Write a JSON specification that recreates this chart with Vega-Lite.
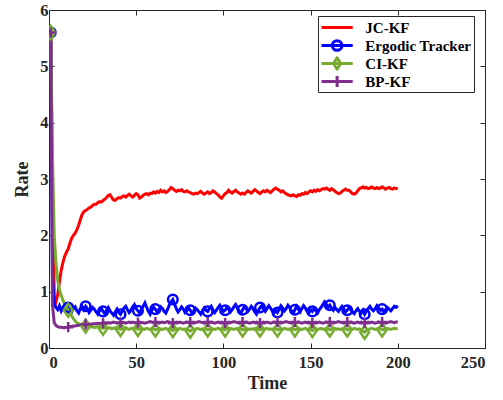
{
"$schema":"https://vega.github.io/schema/vega-lite/v6.json",
"width":436,"height":338,
"autosize":"none",
"padding":{"left":49,"top":10,"right":18,"bottom":52},
"background":"white",
"config":{
 "font":"Liberation Serif",
 "view":{"stroke":"#262626","strokeWidth":1},
 "axis":{"labelFont":"Liberation Serif","labelFontWeight":"bold","labelFontSize":16.5,"labelColor":"#262626","titleFont":"Liberation Serif","titleFontWeight":"bold","titleFontSize":18,"titleColor":"#262626","domainColor":"#262626","tickColor":"#262626","tickSize":-5,"grid":false,"labelPadding":6}
},
"data":{"values":[
{"t":1,"JC-KF":5.6,"Ergodic Tracker":5.6,"CI-KF":5.6,"BP-KF":5.6},
{"t":2,"JC-KF":2.8,"Ergodic Tracker":1.3,"CI-KF":3.4,"BP-KF":0.75},
{"t":3,"JC-KF":0.9,"Ergodic Tracker":0.78,"CI-KF":2.0,"BP-KF":0.45},
{"t":4,"JC-KF":0.82,"Ergodic Tracker":0.72,"CI-KF":1.5,"BP-KF":0.4},
{"t":5,"JC-KF":0.95,"Ergodic Tracker":0.68,"CI-KF":1.2,"BP-KF":0.38},
{"t":6,"JC-KF":1.18,"Ergodic Tracker":0.75,"CI-KF":1.03,"BP-KF":0.37},
{"t":7,"JC-KF":1.38,"Ergodic Tracker":0.66,"CI-KF":0.93,"BP-KF":0.37},
{"t":8,"JC-KF":1.52,"Ergodic Tracker":0.72,"CI-KF":0.85,"BP-KF":0.36},
{"t":9,"JC-KF":1.63,"Ergodic Tracker":0.7,"CI-KF":0.78,"BP-KF":0.36},
{"t":10,"JC-KF":1.7,"Ergodic Tracker":0.65,"CI-KF":0.72,"BP-KF":0.37},
{"t":11,"JC-KF":1.76,"Ergodic Tracker":0.72,"CI-KF":0.67,"BP-KF":0.37},
{"t":12,"JC-KF":1.86,"Ergodic Tracker":0.69,"CI-KF":0.62,"BP-KF":0.38},
{"t":13,"JC-KF":1.95,"Ergodic Tracker":0.64,"CI-KF":0.57,"BP-KF":0.38},
{"t":14,"JC-KF":2.0,"Ergodic Tracker":0.7,"CI-KF":0.52,"BP-KF":0.39},
{"t":15,"JC-KF":2.04,"Ergodic Tracker":0.73,"CI-KF":0.48,"BP-KF":0.39},
{"t":16,"JC-KF":2.1,"Ergodic Tracker":0.66,"CI-KF":0.45,"BP-KF":0.4},
{"t":17,"JC-KF":2.18,"Ergodic Tracker":0.62,"CI-KF":0.43,"BP-KF":0.4},
{"t":18,"JC-KF":2.28,"Ergodic Tracker":0.7,"CI-KF":0.42,"BP-KF":0.41},
{"t":19,"JC-KF":2.37,"Ergodic Tracker":0.74,"CI-KF":0.41,"BP-KF":0.41},
{"t":20,"JC-KF":2.42,"Ergodic Tracker":0.68,"CI-KF":0.4,"BP-KF":0.42},
{"t":21,"JC-KF":2.44,"Ergodic Tracker":0.74,"CI-KF":0.39,"BP-KF":0.42},
{"t":22,"JC-KF":2.46,"Ergodic Tracker":0.7,"CI-KF":0.38,"BP-KF":0.42},
{"t":23,"JC-KF":2.49,"Ergodic Tracker":0.63,"CI-KF":0.39,"BP-KF":0.43},
{"t":24,"JC-KF":2.5,"Ergodic Tracker":0.67,"CI-KF":0.37,"BP-KF":0.42},
{"t":25,"JC-KF":2.53,"Ergodic Tracker":0.72,"CI-KF":0.38,"BP-KF":0.43},
{"t":26,"JC-KF":2.55,"Ergodic Tracker":0.69,"CI-KF":0.36,"BP-KF":0.43},
{"t":27,"JC-KF":2.55,"Ergodic Tracker":0.64,"CI-KF":0.37,"BP-KF":0.43},
{"t":28,"JC-KF":2.58,"Ergodic Tracker":0.6,"CI-KF":0.38,"BP-KF":0.44},
{"t":29,"JC-KF":2.6,"Ergodic Tracker":0.66,"CI-KF":0.36,"BP-KF":0.43},
{"t":30,"JC-KF":2.59,"Ergodic Tracker":0.7,"CI-KF":0.37,"BP-KF":0.44},
{"t":31,"JC-KF":2.62,"Ergodic Tracker":0.65,"CI-KF":0.35,"BP-KF":0.44},
{"t":32,"JC-KF":2.64,"Ergodic Tracker":0.61,"CI-KF":0.36,"BP-KF":0.45},
{"t":33,"JC-KF":2.67,"Ergodic Tracker":0.67,"CI-KF":0.37,"BP-KF":0.44},
{"t":34,"JC-KF":2.71,"Ergodic Tracker":0.72,"CI-KF":0.35,"BP-KF":0.45},
{"t":35,"JC-KF":2.72,"Ergodic Tracker":0.66,"CI-KF":0.36,"BP-KF":0.44},
{"t":36,"JC-KF":2.67,"Ergodic Tracker":0.62,"CI-KF":0.34,"BP-KF":0.45},
{"t":37,"JC-KF":2.63,"Ergodic Tracker":0.58,"CI-KF":0.35,"BP-KF":0.46},
{"t":38,"JC-KF":2.62,"Ergodic Tracker":0.64,"CI-KF":0.36,"BP-KF":0.45},
{"t":39,"JC-KF":2.65,"Ergodic Tracker":0.69,"CI-KF":0.34,"BP-KF":0.44},
{"t":40,"JC-KF":2.67,"Ergodic Tracker":0.63,"CI-KF":0.35,"BP-KF":0.45},
{"t":41,"JC-KF":2.66,"Ergodic Tracker":0.6,"CI-KF":0.33,"BP-KF":0.45},
{"t":42,"JC-KF":2.69,"Ergodic Tracker":0.66,"CI-KF":0.34,"BP-KF":0.46},
{"t":43,"JC-KF":2.7,"Ergodic Tracker":0.71,"CI-KF":0.35,"BP-KF":0.45},
{"t":44,"JC-KF":2.68,"Ergodic Tracker":0.74,"CI-KF":0.36,"BP-KF":0.44},
{"t":45,"JC-KF":2.71,"Ergodic Tracker":0.68,"CI-KF":0.34,"BP-KF":0.45},
{"t":46,"JC-KF":2.73,"Ergodic Tracker":0.63,"CI-KF":0.33,"BP-KF":0.46},
{"t":47,"JC-KF":2.7,"Ergodic Tracker":0.67,"CI-KF":0.35,"BP-KF":0.45},
{"t":48,"JC-KF":2.68,"Ergodic Tracker":0.73,"CI-KF":0.34,"BP-KF":0.46},
{"t":49,"JC-KF":2.71,"Ergodic Tracker":0.77,"CI-KF":0.36,"BP-KF":0.45},
{"t":50,"JC-KF":2.74,"Ergodic Tracker":0.7,"CI-KF":0.35,"BP-KF":0.44},
{"t":51,"JC-KF":2.72,"Ergodic Tracker":0.66,"CI-KF":0.33,"BP-KF":0.45},
{"t":52,"JC-KF":2.66,"Ergodic Tracker":0.62,"CI-KF":0.34,"BP-KF":0.46},
{"t":53,"JC-KF":2.68,"Ergodic Tracker":0.69,"CI-KF":0.35,"BP-KF":0.45},
{"t":54,"JC-KF":2.71,"Ergodic Tracker":0.74,"CI-KF":0.34,"BP-KF":0.45},
{"t":55,"JC-KF":2.73,"Ergodic Tracker":0.8,"CI-KF":0.33,"BP-KF":0.44},
{"t":56,"JC-KF":2.74,"Ergodic Tracker":0.72,"CI-KF":0.35,"BP-KF":0.45},
{"t":57,"JC-KF":2.72,"Ergodic Tracker":0.65,"CI-KF":0.34,"BP-KF":0.46},
{"t":58,"JC-KF":2.75,"Ergodic Tracker":0.6,"CI-KF":0.33,"BP-KF":0.47},
{"t":59,"JC-KF":2.74,"Ergodic Tracker":0.67,"CI-KF":0.35,"BP-KF":0.46},
{"t":60,"JC-KF":2.77,"Ergodic Tracker":0.72,"CI-KF":0.34,"BP-KF":0.45},
{"t":61,"JC-KF":2.75,"Ergodic Tracker":0.69,"CI-KF":0.32,"BP-KF":0.46},
{"t":62,"JC-KF":2.78,"Ergodic Tracker":0.64,"CI-KF":0.33,"BP-KF":0.45},
{"t":63,"JC-KF":2.76,"Ergodic Tracker":0.68,"CI-KF":0.35,"BP-KF":0.44},
{"t":64,"JC-KF":2.8,"Ergodic Tracker":0.73,"CI-KF":0.34,"BP-KF":0.45},
{"t":65,"JC-KF":2.77,"Ergodic Tracker":0.7,"CI-KF":0.33,"BP-KF":0.46},
{"t":66,"JC-KF":2.79,"Ergodic Tracker":0.65,"CI-KF":0.34,"BP-KF":0.45},
{"t":67,"JC-KF":2.76,"Ergodic Tracker":0.62,"CI-KF":0.35,"BP-KF":0.46},
{"t":68,"JC-KF":2.78,"Ergodic Tracker":0.69,"CI-KF":0.33,"BP-KF":0.47},
{"t":69,"JC-KF":2.81,"Ergodic Tracker":0.76,"CI-KF":0.34,"BP-KF":0.46},
{"t":70,"JC-KF":2.85,"Ergodic Tracker":0.82,"CI-KF":0.33,"BP-KF":0.45},
{"t":71,"JC-KF":2.83,"Ergodic Tracker":0.86,"CI-KF":0.31,"BP-KF":0.44},
{"t":72,"JC-KF":2.8,"Ergodic Tracker":0.78,"CI-KF":0.33,"BP-KF":0.45},
{"t":73,"JC-KF":2.78,"Ergodic Tracker":0.7,"CI-KF":0.34,"BP-KF":0.46},
{"t":74,"JC-KF":2.8,"Ergodic Tracker":0.64,"CI-KF":0.33,"BP-KF":0.45},
{"t":75,"JC-KF":2.79,"Ergodic Tracker":0.68,"CI-KF":0.35,"BP-KF":0.46},
{"t":76,"JC-KF":2.81,"Ergodic Tracker":0.73,"CI-KF":0.34,"BP-KF":0.45},
{"t":77,"JC-KF":2.78,"Ergodic Tracker":0.69,"CI-KF":0.33,"BP-KF":0.44},
{"t":78,"JC-KF":2.77,"Ergodic Tracker":0.63,"CI-KF":0.34,"BP-KF":0.45},
{"t":79,"JC-KF":2.79,"Ergodic Tracker":0.66,"CI-KF":0.33,"BP-KF":0.46},
{"t":80,"JC-KF":2.77,"Ergodic Tracker":0.71,"CI-KF":0.32,"BP-KF":0.45},
{"t":81,"JC-KF":2.76,"Ergodic Tracker":0.67,"CI-KF":0.3,"BP-KF":0.46},
{"t":82,"JC-KF":2.74,"Ergodic Tracker":0.62,"CI-KF":0.32,"BP-KF":0.45},
{"t":83,"JC-KF":2.73,"Ergodic Tracker":0.66,"CI-KF":0.34,"BP-KF":0.44},
{"t":84,"JC-KF":2.75,"Ergodic Tracker":0.71,"CI-KF":0.33,"BP-KF":0.45},
{"t":85,"JC-KF":2.74,"Ergodic Tracker":0.68,"CI-KF":0.35,"BP-KF":0.46},
{"t":86,"JC-KF":2.76,"Ergodic Tracker":0.64,"CI-KF":0.34,"BP-KF":0.47},
{"t":87,"JC-KF":2.78,"Ergodic Tracker":0.6,"CI-KF":0.33,"BP-KF":0.46},
{"t":88,"JC-KF":2.75,"Ergodic Tracker":0.66,"CI-KF":0.34,"BP-KF":0.45},
{"t":89,"JC-KF":2.73,"Ergodic Tracker":0.71,"CI-KF":0.33,"BP-KF":0.44},
{"t":90,"JC-KF":2.75,"Ergodic Tracker":0.67,"CI-KF":0.34,"BP-KF":0.45},
{"t":91,"JC-KF":2.77,"Ergodic Tracker":0.65,"CI-KF":0.32,"BP-KF":0.46},
{"t":92,"JC-KF":2.74,"Ergodic Tracker":0.7,"CI-KF":0.33,"BP-KF":0.45},
{"t":93,"JC-KF":2.76,"Ergodic Tracker":0.74,"CI-KF":0.35,"BP-KF":0.46},
{"t":94,"JC-KF":2.79,"Ergodic Tracker":0.68,"CI-KF":0.34,"BP-KF":0.45},
{"t":95,"JC-KF":2.77,"Ergodic Tracker":0.63,"CI-KF":0.33,"BP-KF":0.44},
{"t":96,"JC-KF":2.74,"Ergodic Tracker":0.67,"CI-KF":0.34,"BP-KF":0.45},
{"t":97,"JC-KF":2.72,"Ergodic Tracker":0.72,"CI-KF":0.35,"BP-KF":0.46},
{"t":98,"JC-KF":2.68,"Ergodic Tracker":0.76,"CI-KF":0.34,"BP-KF":0.45},
{"t":99,"JC-KF":2.66,"Ergodic Tracker":0.7,"CI-KF":0.33,"BP-KF":0.46},
{"t":100,"JC-KF":2.7,"Ergodic Tracker":0.65,"CI-KF":0.33,"BP-KF":0.45},
{"t":101,"JC-KF":2.74,"Ergodic Tracker":0.67,"CI-KF":0.32,"BP-KF":0.44},
{"t":102,"JC-KF":2.76,"Ergodic Tracker":0.72,"CI-KF":0.34,"BP-KF":0.45},
{"t":103,"JC-KF":2.8,"Ergodic Tracker":0.69,"CI-KF":0.33,"BP-KF":0.46},
{"t":104,"JC-KF":2.77,"Ergodic Tracker":0.64,"CI-KF":0.35,"BP-KF":0.45},
{"t":105,"JC-KF":2.75,"Ergodic Tracker":0.68,"CI-KF":0.34,"BP-KF":0.46},
{"t":106,"JC-KF":2.78,"Ergodic Tracker":0.73,"CI-KF":0.33,"BP-KF":0.47},
{"t":107,"JC-KF":2.8,"Ergodic Tracker":0.77,"CI-KF":0.34,"BP-KF":0.46},
{"t":108,"JC-KF":2.77,"Ergodic Tracker":0.71,"CI-KF":0.35,"BP-KF":0.45},
{"t":109,"JC-KF":2.75,"Ergodic Tracker":0.66,"CI-KF":0.33,"BP-KF":0.44},
{"t":110,"JC-KF":2.73,"Ergodic Tracker":0.62,"CI-KF":0.34,"BP-KF":0.45},
{"t":111,"JC-KF":2.75,"Ergodic Tracker":0.68,"CI-KF":0.32,"BP-KF":0.46},
{"t":112,"JC-KF":2.73,"Ergodic Tracker":0.73,"CI-KF":0.33,"BP-KF":0.45},
{"t":113,"JC-KF":2.76,"Ergodic Tracker":0.7,"CI-KF":0.35,"BP-KF":0.46},
{"t":114,"JC-KF":2.79,"Ergodic Tracker":0.65,"CI-KF":0.34,"BP-KF":0.45},
{"t":115,"JC-KF":2.77,"Ergodic Tracker":0.69,"CI-KF":0.33,"BP-KF":0.44},
{"t":116,"JC-KF":2.75,"Ergodic Tracker":0.74,"CI-KF":0.34,"BP-KF":0.45},
{"t":117,"JC-KF":2.78,"Ergodic Tracker":0.7,"CI-KF":0.33,"BP-KF":0.46},
{"t":118,"JC-KF":2.81,"Ergodic Tracker":0.64,"CI-KF":0.35,"BP-KF":0.45},
{"t":119,"JC-KF":2.79,"Ergodic Tracker":0.6,"CI-KF":0.34,"BP-KF":0.46},
{"t":120,"JC-KF":2.76,"Ergodic Tracker":0.66,"CI-KF":0.33,"BP-KF":0.45},
{"t":121,"JC-KF":2.74,"Ergodic Tracker":0.72,"CI-KF":0.32,"BP-KF":0.44},
{"t":122,"JC-KF":2.77,"Ergodic Tracker":0.75,"CI-KF":0.34,"BP-KF":0.45},
{"t":123,"JC-KF":2.79,"Ergodic Tracker":0.69,"CI-KF":0.33,"BP-KF":0.46},
{"t":124,"JC-KF":2.77,"Ergodic Tracker":0.65,"CI-KF":0.34,"BP-KF":0.45},
{"t":125,"JC-KF":2.8,"Ergodic Tracker":0.7,"CI-KF":0.35,"BP-KF":0.46},
{"t":126,"JC-KF":2.78,"Ergodic Tracker":0.75,"CI-KF":0.33,"BP-KF":0.45},
{"t":127,"JC-KF":2.76,"Ergodic Tracker":0.71,"CI-KF":0.34,"BP-KF":0.44},
{"t":128,"JC-KF":2.79,"Ergodic Tracker":0.66,"CI-KF":0.33,"BP-KF":0.45},
{"t":129,"JC-KF":2.82,"Ergodic Tracker":0.62,"CI-KF":0.35,"BP-KF":0.46},
{"t":130,"JC-KF":2.84,"Ergodic Tracker":0.67,"CI-KF":0.34,"BP-KF":0.45},
{"t":131,"JC-KF":2.82,"Ergodic Tracker":0.63,"CI-KF":0.32,"BP-KF":0.46},
{"t":132,"JC-KF":2.8,"Ergodic Tracker":0.69,"CI-KF":0.33,"BP-KF":0.45},
{"t":133,"JC-KF":2.77,"Ergodic Tracker":0.75,"CI-KF":0.34,"BP-KF":0.44},
{"t":134,"JC-KF":2.79,"Ergodic Tracker":0.71,"CI-KF":0.33,"BP-KF":0.45},
{"t":135,"JC-KF":2.76,"Ergodic Tracker":0.66,"CI-KF":0.35,"BP-KF":0.46},
{"t":136,"JC-KF":2.74,"Ergodic Tracker":0.7,"CI-KF":0.34,"BP-KF":0.47},
{"t":137,"JC-KF":2.72,"Ergodic Tracker":0.76,"CI-KF":0.33,"BP-KF":0.46},
{"t":138,"JC-KF":2.71,"Ergodic Tracker":0.72,"CI-KF":0.34,"BP-KF":0.45},
{"t":139,"JC-KF":2.7,"Ergodic Tracker":0.66,"CI-KF":0.33,"BP-KF":0.44},
{"t":140,"JC-KF":2.72,"Ergodic Tracker":0.62,"CI-KF":0.34,"BP-KF":0.45},
{"t":141,"JC-KF":2.7,"Ergodic Tracker":0.68,"CI-KF":0.32,"BP-KF":0.46},
{"t":142,"JC-KF":2.69,"Ergodic Tracker":0.74,"CI-KF":0.33,"BP-KF":0.45},
{"t":143,"JC-KF":2.72,"Ergodic Tracker":0.69,"CI-KF":0.35,"BP-KF":0.46},
{"t":144,"JC-KF":2.71,"Ergodic Tracker":0.64,"CI-KF":0.34,"BP-KF":0.45},
{"t":145,"JC-KF":2.74,"Ergodic Tracker":0.7,"CI-KF":0.33,"BP-KF":0.44},
{"t":146,"JC-KF":2.73,"Ergodic Tracker":0.75,"CI-KF":0.34,"BP-KF":0.45},
{"t":147,"JC-KF":2.76,"Ergodic Tracker":0.71,"CI-KF":0.35,"BP-KF":0.46},
{"t":148,"JC-KF":2.74,"Ergodic Tracker":0.65,"CI-KF":0.33,"BP-KF":0.45},
{"t":149,"JC-KF":2.77,"Ergodic Tracker":0.62,"CI-KF":0.34,"BP-KF":0.46},
{"t":150,"JC-KF":2.79,"Ergodic Tracker":0.68,"CI-KF":0.33,"BP-KF":0.45},
{"t":151,"JC-KF":2.77,"Ergodic Tracker":0.65,"CI-KF":0.31,"BP-KF":0.44},
{"t":152,"JC-KF":2.8,"Ergodic Tracker":0.7,"CI-KF":0.33,"BP-KF":0.45},
{"t":153,"JC-KF":2.78,"Ergodic Tracker":0.66,"CI-KF":0.34,"BP-KF":0.46},
{"t":154,"JC-KF":2.81,"Ergodic Tracker":0.62,"CI-KF":0.33,"BP-KF":0.45},
{"t":155,"JC-KF":2.79,"Ergodic Tracker":0.68,"CI-KF":0.34,"BP-KF":0.46},
{"t":156,"JC-KF":2.81,"Ergodic Tracker":0.72,"CI-KF":0.35,"BP-KF":0.45},
{"t":157,"JC-KF":2.83,"Ergodic Tracker":0.77,"CI-KF":0.33,"BP-KF":0.44},
{"t":158,"JC-KF":2.82,"Ergodic Tracker":0.82,"CI-KF":0.34,"BP-KF":0.45},
{"t":159,"JC-KF":2.84,"Ergodic Tracker":0.78,"CI-KF":0.33,"BP-KF":0.46},
{"t":160,"JC-KF":2.82,"Ergodic Tracker":0.72,"CI-KF":0.34,"BP-KF":0.45},
{"t":161,"JC-KF":2.8,"Ergodic Tracker":0.76,"CI-KF":0.32,"BP-KF":0.46},
{"t":162,"JC-KF":2.83,"Ergodic Tracker":0.71,"CI-KF":0.33,"BP-KF":0.45},
{"t":163,"JC-KF":2.81,"Ergodic Tracker":0.67,"CI-KF":0.34,"BP-KF":0.44},
{"t":164,"JC-KF":2.78,"Ergodic Tracker":0.72,"CI-KF":0.35,"BP-KF":0.45},
{"t":165,"JC-KF":2.76,"Ergodic Tracker":0.68,"CI-KF":0.33,"BP-KF":0.46},
{"t":166,"JC-KF":2.74,"Ergodic Tracker":0.65,"CI-KF":0.34,"BP-KF":0.47},
{"t":167,"JC-KF":2.75,"Ergodic Tracker":0.7,"CI-KF":0.33,"BP-KF":0.46},
{"t":168,"JC-KF":2.78,"Ergodic Tracker":0.74,"CI-KF":0.34,"BP-KF":0.45},
{"t":169,"JC-KF":2.8,"Ergodic Tracker":0.69,"CI-KF":0.35,"BP-KF":0.44},
{"t":170,"JC-KF":2.82,"Ergodic Tracker":0.64,"CI-KF":0.34,"BP-KF":0.45},
{"t":171,"JC-KF":2.8,"Ergodic Tracker":0.67,"CI-KF":0.32,"BP-KF":0.46},
{"t":172,"JC-KF":2.8,"Ergodic Tracker":0.72,"CI-KF":0.33,"BP-KF":0.45},
{"t":173,"JC-KF":2.77,"Ergodic Tracker":0.68,"CI-KF":0.34,"BP-KF":0.46},
{"t":174,"JC-KF":2.74,"Ergodic Tracker":0.64,"CI-KF":0.33,"BP-KF":0.45},
{"t":175,"JC-KF":2.73,"Ergodic Tracker":0.61,"CI-KF":0.35,"BP-KF":0.44},
{"t":176,"JC-KF":2.75,"Ergodic Tracker":0.66,"CI-KF":0.34,"BP-KF":0.45},
{"t":177,"JC-KF":2.79,"Ergodic Tracker":0.7,"CI-KF":0.33,"BP-KF":0.46},
{"t":178,"JC-KF":2.83,"Ergodic Tracker":0.65,"CI-KF":0.34,"BP-KF":0.45},
{"t":179,"JC-KF":2.84,"Ergodic Tracker":0.62,"CI-KF":0.32,"BP-KF":0.46},
{"t":180,"JC-KF":2.86,"Ergodic Tracker":0.67,"CI-KF":0.3,"BP-KF":0.45},
{"t":181,"JC-KF":2.84,"Ergodic Tracker":0.6,"CI-KF":0.28,"BP-KF":0.44},
{"t":182,"JC-KF":2.85,"Ergodic Tracker":0.65,"CI-KF":0.31,"BP-KF":0.45},
{"t":183,"JC-KF":2.83,"Ergodic Tracker":0.7,"CI-KF":0.33,"BP-KF":0.46},
{"t":184,"JC-KF":2.84,"Ergodic Tracker":0.74,"CI-KF":0.34,"BP-KF":0.45},
{"t":185,"JC-KF":2.86,"Ergodic Tracker":0.69,"CI-KF":0.35,"BP-KF":0.46},
{"t":186,"JC-KF":2.84,"Ergodic Tracker":0.66,"CI-KF":0.34,"BP-KF":0.45},
{"t":187,"JC-KF":2.83,"Ergodic Tracker":0.7,"CI-KF":0.33,"BP-KF":0.44},
{"t":188,"JC-KF":2.85,"Ergodic Tracker":0.75,"CI-KF":0.34,"BP-KF":0.45},
{"t":189,"JC-KF":2.83,"Ergodic Tracker":0.71,"CI-KF":0.35,"BP-KF":0.46},
{"t":190,"JC-KF":2.84,"Ergodic Tracker":0.67,"CI-KF":0.34,"BP-KF":0.45},
{"t":191,"JC-KF":2.86,"Ergodic Tracker":0.69,"CI-KF":0.32,"BP-KF":0.46},
{"t":192,"JC-KF":2.84,"Ergodic Tracker":0.64,"CI-KF":0.33,"BP-KF":0.45},
{"t":193,"JC-KF":2.82,"Ergodic Tracker":0.68,"CI-KF":0.34,"BP-KF":0.44},
{"t":194,"JC-KF":2.84,"Ergodic Tracker":0.72,"CI-KF":0.35,"BP-KF":0.45},
{"t":195,"JC-KF":2.85,"Ergodic Tracker":0.69,"CI-KF":0.34,"BP-KF":0.46},
{"t":196,"JC-KF":2.83,"Ergodic Tracker":0.66,"CI-KF":0.33,"BP-KF":0.47},
{"t":197,"JC-KF":2.82,"Ergodic Tracker":0.7,"CI-KF":0.34,"BP-KF":0.46},
{"t":198,"JC-KF":2.84,"Ergodic Tracker":0.74,"CI-KF":0.35,"BP-KF":0.45},
{"t":199,"JC-KF":2.83,"Ergodic Tracker":0.72,"CI-KF":0.34,"BP-KF":0.46},
{"t":200,"JC-KF":2.83,"Ergodic Tracker":0.75,"CI-KF":0.34,"BP-KF":0.46}
]},
"transform":[{"fold":["JC-KF","Ergodic Tracker","CI-KF","BP-KF"],"as":["series","value"]}],
"layer":[
 {"mark":{"type":"line","strokeWidth":3,"clip":true},
  "encoding":{
   "x":{"field":"t","type":"quantitative","scale":{"domain":[0,250],"nice":false},"axis":{"title":"Time","values":[0,50,100,150,200,250],"labelPadding":11,"titlePadding":4,"labelFont":"Liberation Serif","labelFontWeight":"bold","titleFont":"Liberation Serif"}},
   "y":{"field":"value","type":"quantitative","scale":{"domain":[0,6],"nice":false},"axis":{"title":"Rate","values":[0,1,2,3,4,5,6],"titlePadding":8,"labelFont":"Liberation Serif","labelFontWeight":"bold","titleFont":"Liberation Serif"}},
   "color":{"field":"series","type":"nominal","sort":null,
     "scale":{"domain":["JC-KF","Ergodic Tracker","CI-KF","BP-KF"],"range":["#FF0000","#0000FF","#77AC30","#7E2F8E"]},
     "legend":{"title":null,"orient":"none","legendX":269,"legendY":6,"direction":"vertical",
       "strokeColor":"#262626","fillColor":"white","padding":2,
       "symbolSize":256,"symbolStrokeWidth":3,"symbolType":"stroke","symbolOffset":7.6,
       "labelFont":"Liberation Serif","labelFontWeight":"bold","labelFontSize":15,"labelColor":"#000000","labelOffset":18.7,"rowPadding":0,
       "encode":{"symbols":{"update":{"shape":{"signal":"datum.value == 'JC-KF' ? 'M0,-0.73L0,-0.73M0,0.73L0,0.73M-1.95,0H1.95' : datum.value == 'Ergodic Tracker' ? 'M0,-0.73L0,-0.73M0,0.73L0,0.73M-1.95,0H1.95M-0.6,0A0.6,0.6 0 1,1 0.6,0A0.6,0.6 0 1,1 -0.6,0' : datum.value == 'CI-KF' ? 'M0,-0.73L0,-0.73M0,0.73L0,0.73M-1.95,0H1.95M0,-0.72L0.45,0L0,0.72L-0.45,0Z' : 'M0,-0.73L0,-0.73M0,0.73L0,0.73M-1.95,0H1.95M0,-0.68V0.68'"},"fill":{"value":"transparent"},"strokeWidth":{"value":3},"strokeJoin":{"value":"round"}}}}
     }}
  }},
 {"transform":[{"filter":"datum.series != 'JC-KF' && (datum.t - 1) % 10 == 0"}],
  "mark":{"type":"point","filled":false,"strokeWidth":2.5,"size":144,"opacity":1,"clip":true},
  "encoding":{
   "x":{"field":"t","type":"quantitative","axis":{"orient":"top","labels":false,"title":null,"values":[0,50,100,150,200,250]}},
   "y":{"field":"value","type":"quantitative","axis":{"orient":"right","labels":false,"title":null,"values":[0,1,2,3,4,5,6]}},
   "color":{"field":"series","type":"nominal","legend":null},
   "shape":{"field":"series","type":"nominal","legend":null,
     "scale":{"domain":["Ergodic Tracker","CI-KF","BP-KF"],"range":["M-0.8,0A0.8,0.8 0 1,1 0.8,0A0.8,0.8 0 1,1 -0.8,0","M0,-1.1L0.75,0L0,1.1L-0.75,0Z","M-0.85,0H0.85M0,-0.85V0.85"]}}
  }}
],
"resolve":{"axis":{"x":"independent","y":"independent"}}
}
